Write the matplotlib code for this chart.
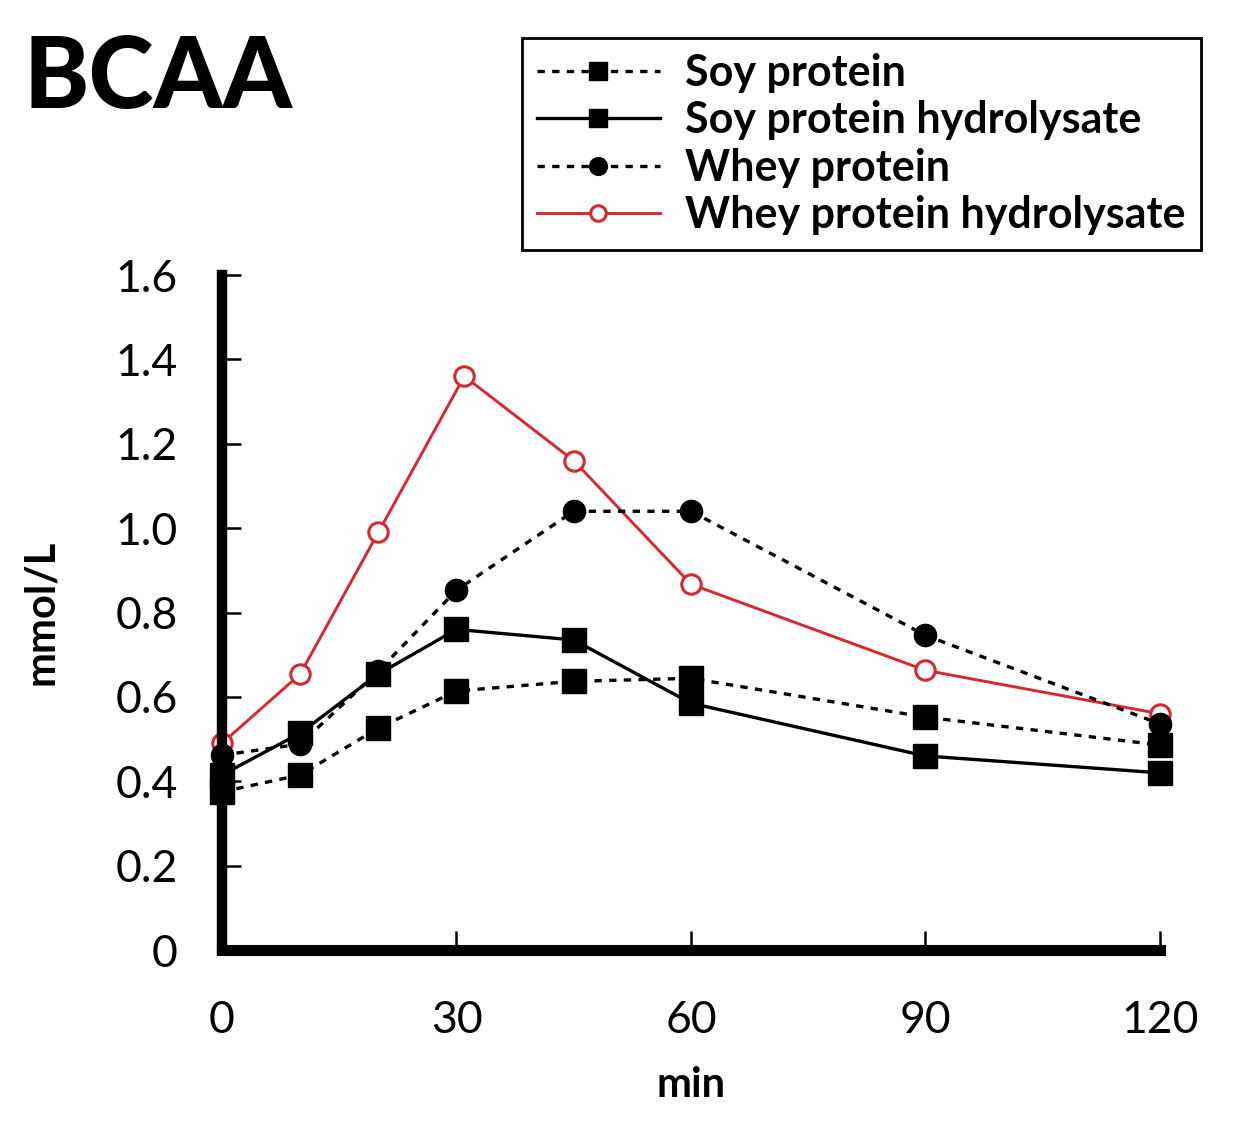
import matplotlib.pyplot as plt

plt.rcParams['font.family'] = ['Lato', 'DejaVu Sans']

# time points (min)
t = [0, 10, 20, 30, 45, 60, 90, 120]
t_wph = [0, 10, 20, 31, 45, 60, 90, 120]  # red peak sits slightly right of 30

# BCAA, mmol/L
soy = [0.375, 0.415, 0.526, 0.614, 0.637, 0.644, 0.552, 0.486]
soy_hyd = [0.415, 0.514, 0.654, 0.760, 0.735, 0.585, 0.460, 0.420]
whey = [0.462, 0.488, 0.661, 0.853, 1.040, 1.040, 0.746, 0.536]
whey_hyd = [0.490, 0.654, 0.990, 1.360, 1.160, 0.867, 0.663, 0.560]

xticks = [0, 30, 60, 90, 120]
yticks = [0, 0.2, 0.4, 0.6, 0.8, 1.0, 1.2, 1.4, 1.6]
ytick_labels = ['0', '0.2', '0.4', '0.6', '0.8', '1.0', '1.2', '1.4', '1.6']

red = '#d7282f'

fig = plt.figure(figsize=(12.36, 11.36), dpi=100)
ax = fig.add_axes([0.1796, 0.1637, 0.7589, 0.5942])

dots = (0, (2.2, 2.2))
l1, = ax.plot(t, soy, color='black', ls=dots, lw=2.4, marker='s', ms=17,
              clip_on=False, zorder=4, label='Soy protein')
l2, = ax.plot(t, soy_hyd, color='black', ls='-', lw=2.4, marker='s', ms=17,
              clip_on=False, zorder=4, label='Soy protein hydrolysate')
l3, = ax.plot(t, whey, color='black', ls=dots, lw=2.4, marker='o', ms=16,
              clip_on=False, zorder=3, label='Whey protein')
l4, = ax.plot(t_wph, whey_hyd, color=red, ls='-', lw=2.1, marker='o', ms=14,
              mfc='white', mec=red, mew=2.2, clip_on=False, zorder=2,
              label='Whey protein hydrolysate')

ax.set_xlim(0, 120)
ax.set_ylim(0, 1.6)
ax.set_xticks(xticks)
ax.set_yticks(yticks)
ax.set_yticklabels(ytick_labels)

for s in ['top', 'right']:
    ax.spines[s].set_visible(False)
ax.spines['left'].set_linewidth(7.5)
ax.spines['bottom'].set_linewidth(8)
ax.spines['left'].set_capstyle('projecting')
ax.spines['bottom'].set_capstyle('projecting')

ax.tick_params(axis='x', direction='in', length=14, width=1.8, pad=36, labelsize=32)
ax.tick_params(axis='y', direction='in', length=14, width=1.8, pad=32, labelsize=32)

ax.set_xlabel('min', fontsize=30, fontweight='bold', labelpad=18)
ax.set_ylabel('mmol/L', fontsize=30, fontweight='bold', labelpad=40)

fig.text(24 / 1236, 1 - 108 / 1136, 'BCAA', fontsize=71, fontweight='black',
         ha='left', va='baseline')

leg = fig.legend(handles=[l1, l2, l3, l4], loc='upper right',
                 bbox_to_anchor=(1201 / 1236, 1 - 38 / 1136),
                 bbox_transform=fig.transFigure, borderaxespad=0,
                 prop={'size': 31, 'weight': 'bold'}, handlelength=2.85,
                 handletextpad=0.6, labelspacing=0.17, fancybox=False,
                 edgecolor='black', framealpha=1, borderpad=0.35,
                 markerscale=0.8)
leg.get_frame().set_linewidth(2)

fig.savefig('out.png', dpi=100)
